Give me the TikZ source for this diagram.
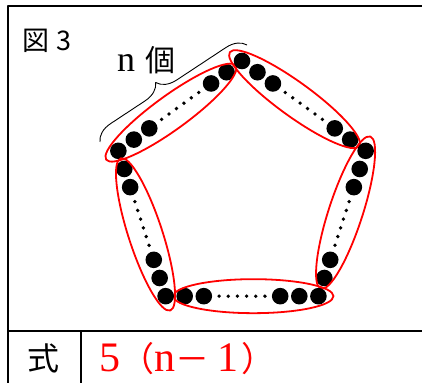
\documentclass[tikz,border=0pt]{standalone}
\usepackage{fontspec}
\setmainfont{Liberation Serif}
\newfontfamily\cjk{Noto Sans CJK JP}
\usetikzlibrary{calc,shapes.geometric,decorations.pathreplacing}
\newcommand\zen[1]{{\cjk\fontsize{34}{34}\selectfont #1}}
\tikzset{
	frame/.style={line width=2.4pt},
	grp/.style={ellipse, draw=red, line width=1.8pt, minimum width=160pt, minimum height=34pt, inner sep=0pt},
}
\begin{document}
\begin{tikzpicture}[x=1pt,y=1pt,line join=round]
	\useasboundingbox (0,0) rectangle (422,382);
	% Frame
	\draw[frame] (8,-5) -- (8,376) -- (430,376);
	\draw[frame] (8,51) -- (430,51);
	\draw[frame] (81,51) -- (81,-5);
	
	% Pentagon corners
	\coordinate (O) at (242,191);
	\foreach \k in {0,...,4}
		\coordinate (c\k) at ($(O)+(162-72*\k:130)$);
	
	% Dots and groups, one side at a time
	\foreach \k in {0,...,4}{
		\pgfmathtruncatemacro{\j}{mod(\k+1,5)}
		\foreach \t in {0,1,2,6,7}
			\fill ($(c\k)!\t/8!(c\j)$) circle (8.3pt);
		\foreach \t in {2.8,3.28,3.76,4.24,4.72,5.2}
			\fill ($(c\k)!\t/8!(c\j)$) circle (1.9pt);
		\node (g\k) [grp, rotate=36-72*\k] at ($(c\k)!0.425!(c\j)$) {};
	}
	
	% Brace over the first side
	\coordinate (b1) at (100,240);
	\coordinate (b2) at (247,337);
	\draw[decorate, decoration={brace, amplitude=19pt, aspect=0.45}, line width=0.9pt] (b1) -- (b2);
	
	% Labels
	\node (fig) [anchor=west, inner sep=0pt, font=\cjk\fontsize{27}{27}\selectfont] at (22,341) {図\hspace{7pt}3};
	\node (cnt) [anchor=base west, inner sep=0pt] at (117,310) {{\fontsize{36}{36}\selectfont n}\hspace{10pt}{\cjk\fontsize{30}{30}\selectfont 個}};
	\node (shiki) [font=\cjk\fontsize{32}{32}\selectfont] at (43,24) {式};
	\node (ans) [anchor=base west, inner sep=0pt, red] at (99,10) {\fontsize{42}{42}\selectfont 5\zen{（}n\zen{－}\hspace{8pt}1\hspace{3pt}\zen{）}};
\end{tikzpicture}
\end{document}
